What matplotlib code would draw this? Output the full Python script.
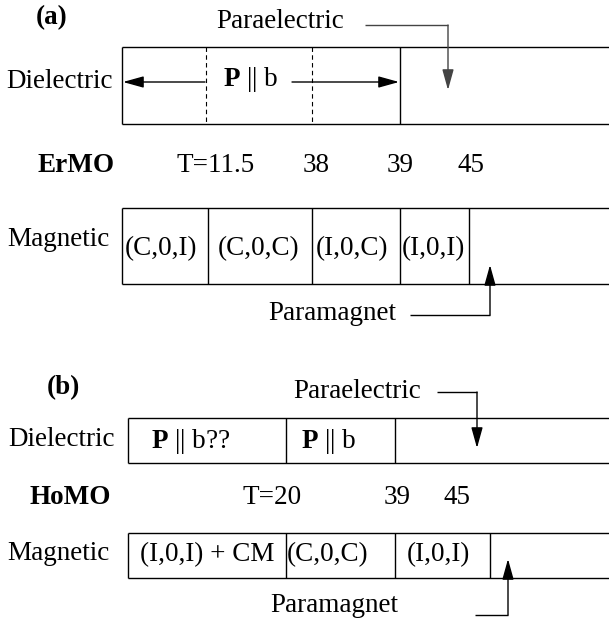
import matplotlib
matplotlib.use("Agg")
import matplotlib.pyplot as plt

plt.rcParams['font.family'] = ['Liberation Serif', 'DejaVu Serif']
plt.rcParams['mathtext.fontset'] = 'custom'
plt.rcParams['mathtext.rm'] = 'Liberation Serif'
plt.rcParams['mathtext.bf'] = 'Liberation Serif:bold'

# ---- data ----
panel_a_material = "ErMO"
panel_a_temps = ["T=11.5", "38", "39", "45"]
panel_a_magnetic = ["(C,0,I)", "(C,0,C)", "(I,0,C)", "(I,0,I)"]
panel_a_dielectric = [r"$\mathbf{P}$ || b"]

panel_b_material = "HoMO"
panel_b_temps = ["T=20", "39", "45"]
panel_b_magnetic = ["(I,0,I) + CM", "(C,0,C)", "(I,0,I)"]
panel_b_dielectric = [r"$\mathbf{P}$ || b??", r"$\mathbf{P}$ || b"]

# ---- layout ----
W, H = 609, 624
fig = plt.figure(figsize=(W / 100, H / 100), dpi=100)
ax = fig.add_axes([0, 0, 1, 1])
ax.set_xlim(0, W)
ax.set_ylim(H, 0)
ax.axis('off')

FS = 19.5
LW = 1.0
C = 'black'

def hline(x0, x1, y, **kw):
    ax.plot([x0, x1], [y, y], color=kw.get('color', C), lw=kw.get('lw', LW),
            solid_capstyle='butt')

def vline(x, y0, y1, **kw):
    ax.plot([x, x], [y0, y1], color=kw.get('color', C), lw=kw.get('lw', LW),
            ls=kw.get('ls', '-'), solid_capstyle='butt')

def arrow(x0, y0, x1, y1, color=C):
    ax.annotate('', xy=(x1, y1), xytext=(x0, y0),
                arrowprops=dict(arrowstyle='-|>,head_length=0.9,head_width=0.25',
                                mutation_scale=14, lw=LW, color=color,
                                shrinkA=0, shrinkB=0))

def box(x0, y0, y1, dividers, dashed=()):
    hline(x0, W, y0)
    hline(x0, W, y1)
    vline(x0, y0, y1)
    for d in dividers:
        vline(d, y0, y1)
    for d in dashed:
        vline(d, y0, y1, ls=(0, (4, 3)), lw=0.8)

def txt(x, y, s, bold=False, size=FS):
    ax.text(x, y, s, ha='center', va='center', fontsize=size,
            fontweight='bold' if bold else 'normal')

# ===== Panel (a) =====
txt(52, 18, "(a)", bold=True)
txt(280, 21, "Paraelectric")
hline(365, 448, 25, color='#444444')
arrow(448, 25, 448, 90, color='#444444')

box(122, 47, 124, [400], dashed=[206, 312])
txt(60, 82, "Dielectric")
txt(251, 80, panel_a_dielectric[0])
arrow(205, 82, 123, 82)
arrow(292, 82, 399, 82)

txt(76, 166, panel_a_material, bold=True)
for x, s in zip([216, 316, 400, 471], panel_a_temps):
    txt(x, 166, s)

box(122, 208, 284, [208, 312, 400, 469])
txt(58, 240, "Magnetic")
for x, s in zip([161, 259, 352, 433], panel_a_magnetic):
    txt(x, 249, s)

txt(332, 313, "Paramagnet")
hline(410, 490, 315)
arrow(490, 315, 490, 265)

# ===== Panel (b) =====
txt(63, 388, "(b)", bold=True)
txt(357, 391, "Paraelectric")
hline(437, 477, 392)
arrow(477, 392, 477, 448)

box(128, 418, 463, [286, 395])
txt(62, 439, "Dielectric")
for x, s in zip([191, 329], panel_b_dielectric):
    txt(x, 441, s)

txt(70, 497, panel_b_material, bold=True)
for x, s in zip([272, 397, 457], panel_b_temps):
    txt(x, 497, s)

box(128, 533, 578, [286, 395, 490])
txt(58, 554, "Magnetic")
for x, s in zip([207, 328, 438], panel_b_magnetic):
    txt(x, 555, s)

txt(334, 606, "Paramagnet")
hline(475, 508, 615)
arrow(508, 615, 508, 559)

fig.savefig("out.png", dpi=100)
